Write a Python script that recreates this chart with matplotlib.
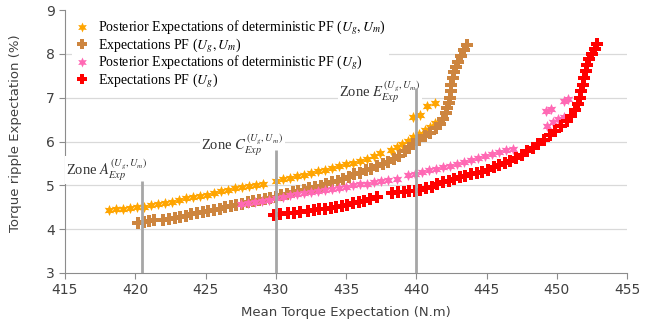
import numpy as np
import matplotlib
matplotlib.use('Agg')
import matplotlib.pyplot as plt

plt.rcParams['mathtext.fontset'] = 'stix'
plt.rcParams['font.family'] = ['DejaVu Sans']

# Posterior expectations of deterministic PF (Ug, Um) - orange
post_ugum = [(418.1, 4.44), (418.6, 4.45), (419.1, 4.46), (419.6, 4.48), (420.1, 4.50),
             (420.6, 4.51), (421.1, 4.54), (421.6, 4.57), (422.1, 4.60), (422.6, 4.63),
             (423.1, 4.67), (423.6, 4.70), (424.1, 4.74), (424.6, 4.76), (425.1, 4.79),
             (425.6, 4.83), (426.1, 4.86), (426.6, 4.90), (427.1, 4.93), (427.6, 4.96),
             (428.1, 4.99), (428.6, 5.01), (429.1, 5.04),
             (430.0, 5.10), (430.5, 5.14), (431.0, 5.17), (431.5, 5.21), (432.0, 5.24),
             (432.5, 5.28), (433.0, 5.32), (433.5, 5.36), (434.0, 5.40), (434.5, 5.44),
             (435.0, 5.48), (435.5, 5.52), (436.0, 5.56), (436.5, 5.61), (437.0, 5.67),
             (437.4, 5.73),
             (438.2, 5.80), (438.6, 5.87), (439.0, 5.94), (439.4, 6.02), (439.8, 6.10),
             (440.2, 6.18), (440.6, 6.26), (441.0, 6.34), (441.3, 6.42),
             (439.8, 6.57), (440.3, 6.60), (440.8, 6.80), (441.3, 6.88)]

# Expectations PF (Ug, Um) - brown
exp_ugum = [(420.2, 4.15), (420.6, 4.17), (421.0, 4.18), (421.3, 4.20),
            (422.0, 4.22), (422.4, 4.24), (422.8, 4.26), (423.2, 4.28), (423.6, 4.31),
            (424.0, 4.34), (424.4, 4.37), (424.8, 4.40), (425.2, 4.42), (425.6, 4.44),
            (426.0, 4.47), (426.4, 4.50), (426.8, 4.53), (427.2, 4.56), (427.6, 4.58),
            (428.0, 4.61), (428.4, 4.64), (428.8, 4.67), (429.2, 4.69), (429.6, 4.72),
            (430.0, 4.74), (430.4, 4.78), (430.8, 4.81), (431.2, 4.84), (431.6, 4.87),
            (432.0, 4.90), (432.4, 4.93), (432.8, 4.96), (433.2, 4.99), (433.6, 5.03),
            (434.0, 5.07), (434.4, 5.11), (434.8, 5.15), (435.2, 5.20), (435.6, 5.25),
            (436.0, 5.29), (436.4, 5.34), (436.8, 5.38), (437.2, 5.43), (437.6, 5.48),
            (438.0, 5.53), (438.4, 5.60), (438.8, 5.68), (439.2, 5.78), (439.5, 5.86),
            (439.8, 5.95), (440.2, 6.04), (440.6, 6.12), (441.0, 6.20), (441.4, 6.30),
            (441.7, 6.40), (441.9, 6.52), (442.1, 6.64), (442.2, 6.76), (442.3, 6.88),
            (442.4, 7.00), (442.45, 7.15), (442.5, 7.30), (442.6, 7.45), (442.7, 7.58),
            (442.8, 7.70), (443.0, 7.82), (443.2, 7.95), (443.4, 8.08), (443.6, 8.20)]

# Posterior expectations of deterministic PF (Ug) - pink
post_ug = [(427.5, 4.57), (428.0, 4.59), (428.5, 4.61), (429.0, 4.64), (429.5, 4.67),
           (430.0, 4.70), (430.5, 4.73), (431.0, 4.77), (431.5, 4.80), (432.0, 4.82),
           (432.5, 4.85), (433.0, 4.87), (433.5, 4.90), (434.0, 4.92), (434.5, 4.95),
           (435.0, 4.97), (435.5, 5.00), (436.0, 5.02), (436.5, 5.04), (437.0, 5.07),
           (437.5, 5.09), (438.0, 5.12), (438.6, 5.15),
           (439.4, 5.23), (439.9, 5.26), (440.4, 5.30), (440.9, 5.34), (441.4, 5.38),
           (441.9, 5.41), (442.4, 5.45), (442.9, 5.49), (443.4, 5.53), (443.9, 5.58),
           (444.4, 5.63), (444.9, 5.68), (445.4, 5.72), (445.9, 5.76), (446.4, 5.80),
           (446.9, 5.84),
           (449.2, 6.70), (449.6, 6.75), (450.5, 6.92), (450.8, 6.97),
           (449.3, 6.36), (449.7, 6.44), (450.1, 6.51), (450.5, 6.57)]

# Expectations PF (Ug) - red
exp_ug = [(429.9, 4.33), (430.3, 4.34),
          (430.9, 4.36), (431.3, 4.37), (431.7, 4.39),
          (432.3, 4.41), (432.7, 4.43), (433.1, 4.45), (433.5, 4.47), (433.9, 4.49),
          (434.3, 4.51), (434.7, 4.53), (435.1, 4.56), (435.5, 4.59), (435.9, 4.62),
          (436.3, 4.65), (436.7, 4.69), (437.2, 4.74),
          (438.3, 4.82), (438.7, 4.84), (439.1, 4.85), (439.5, 4.86), (439.9, 4.88),
          (440.3, 4.90), (440.7, 4.93), (441.1, 4.97), (441.5, 5.02), (441.9, 5.07),
          (442.3, 5.10), (442.7, 5.14), (443.1, 5.18), (443.5, 5.22), (443.9, 5.25),
          (444.3, 5.27), (444.7, 5.30), (445.1, 5.35), (445.5, 5.41), (445.9, 5.46),
          (446.3, 5.51), (446.7, 5.56), (447.1, 5.62), (447.5, 5.70), (447.9, 5.78),
          (448.3, 5.86), (448.7, 5.95), (449.1, 6.04), (449.5, 6.14), (449.9, 6.25),
          (450.3, 6.36), (450.7, 6.46), (451.0, 6.58), (451.3, 6.72), (451.5, 6.86),
          (451.65, 7.00), (451.75, 7.15), (451.85, 7.30), (451.95, 7.45), (452.05, 7.60),
          (452.15, 7.74), (452.3, 7.88), (452.5, 8.00), (452.7, 8.12), (452.9, 8.23)]

series_labels = [r'Posterior Expectations of deterministic PF ($U_g, U_m$)',
                 r'Expectations PF ($U_g, U_m$)',
                 r'Posterior Expectations of deterministic PF ($U_g$)',
                 r'Expectations PF ($U_g$)']

# zones: x position, top of the line, label text, label position
zone_x = [420.5, 430.0, 440.0]
zone_top = [5.10, 5.80, 7.22]
zone_text = [r'Zone $A_{Exp}^{(U_g,U_m)}$', r'Zone $C_{Exp}^{(U_g,U_m)}$',
             r'Zone $E_{Exp}^{(U_g,U_m)}$']
zone_label_xy = [(415.1, 5.24), (424.7, 5.81), (434.5, 7.02)]

fig = plt.figure(figsize=(6.59, 3.25), dpi=100)
ax = fig.add_axes([65 / 659, 1 - 273 / 325, 562 / 659, 263 / 325])

styles = [
    (post_ugum, '#FFA500', (6, 1, 0)),
    (exp_ugum, '#CD853F', 'P'),
    (post_ug, '#FF69B4', (6, 1, 0)),
    (exp_ug, '#FF0000', 'P'),
]
for (pts, col, mk), lab in zip(styles, series_labels):
    xs, ys = np.array(pts).T
    ax.plot(xs, ys, linestyle='none', marker=mk, markersize=8, color=col,
            markeredgewidth=0, label=lab, zorder=3)

ax.vlines(zone_x, 3, zone_top, colors='#a6a6a6', linewidth=2, zorder=7)
for txt, (tx, ty) in zip(zone_text, zone_label_xy):
    ax.text(tx, ty, txt, family='Liberation Serif', fontsize=10.5, color='#333333',
            va='baseline', ha='left', zorder=6,
            bbox=dict(facecolor='white', edgecolor='none', pad=1))

ax.set_xlim(415, 455)
ax.set_ylim(3, 9)
ax.set_xticks(np.arange(415, 456, 5))
ax.set_yticks(np.arange(3, 10, 1))
for yv in range(4, 9):
    ax.axhline(yv, color='#d9d9d9', linewidth=0.9, zorder=0)

for s in ['top', 'right']:
    ax.spines[s].set_visible(False)
for s in ['left', 'bottom']:
    ax.spines[s].set_color('#8c8c8c')
ax.tick_params(direction='out', length=4, color='#8c8c8c', labelsize=10,
               labelcolor='#404040')

ax.set_xlabel('Mean Torque Expectation (N.m)', fontsize=9.5, color='#404040')
ax.set_ylabel('Torque ripple Expectation (%)', fontsize=9.5, color='#404040')
ax.xaxis.set_label_coords(0.5, -0.125)
ax.yaxis.set_label_coords(-0.077, 0.53)

leg = ax.legend(loc='upper left', bbox_to_anchor=(72 / 659, 1 - 16 / 325),
                bbox_transform=fig.transFigure, prop={'family': 'Liberation Serif', 'size': 10},
                frameon=True, facecolor='white', edgecolor='none', framealpha=1,
                handlelength=1.0, handletextpad=0.7, labelspacing=-0.08,
                borderpad=0.2, borderaxespad=0, markerscale=0.9)
leg.set_zorder(5)

fig.savefig('out.png', dpi=100)
